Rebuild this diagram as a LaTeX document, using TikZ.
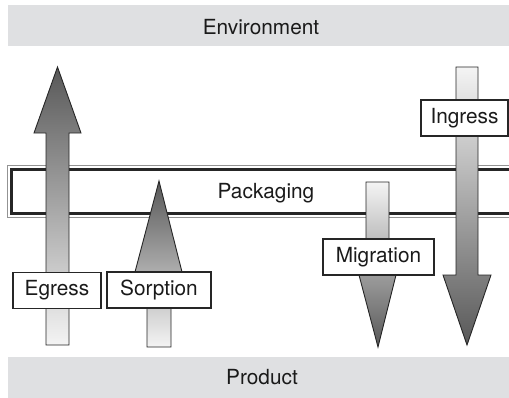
\documentclass[tikz,border=0pt]{standalone}
\usepackage{fontspec}
\setmainfont{TeX Gyre Heros}
\definecolor{bandgray}{HTML}{DFE0E2}
\definecolor{inkgray}{HTML}{1A1A1A}
\definecolor{edgegray}{HTML}{262626}
\definecolor{tailshade}{HTML}{F4F4F4}
\definecolor{tipshade}{HTML}{585858}
\tikzset{
  band/.style={fill=bandgray, draw=none},
  bandtext/.style={text=inkgray, font=\fontsize{20.8}{24}\selectfont},
  flowarrow/.style={draw=edgegray, line width=0.9pt, line join=miter},
  uparrow/.style={flowarrow, top color=tipshade, bottom color=tailshade},
  downarrow/.style={flowarrow, top color=tailshade, bottom color=tipshade},
  labelbox/.style={draw=edgegray, fill=white, line width=1.2pt, inner sep=0pt,
    minimum height=36pt, text=inkgray, font=\fontsize{20.8}{24}\selectfont},
}
\begin{document}
\begin{tikzpicture}[x=1pt,y=-1pt]
\useasboundingbox (0,0) rectangle (509,397);

% environment and product bands
\fill[band] (8,5) rectangle (520,46);
\node[bandtext] (env) at (261,27) {Environment};
\fill[band] (8,357) rectangle (520,405);
\node[bandtext] (prod) at (262,377) {Product};

% packaging layer: thin outer rule and heavy inner rule
\draw[gray!85, line width=1pt] (7,165) rectangle (530,217.5);
\draw[edgegray, line width=3pt] (11.5,169.5) rectangle (530,213);
\node[bandtext] (pack) at (266,193) {Packaging};

% egress: product to environment
\draw[uparrow] (46,345) -- (46,133) -- (34,133) -- (57.5,67) -- (81,133)
  -- (69,133) -- (69,345) -- cycle;
% sorption: product into packaging
\draw[uparrow] (147,347) -- (147,272) -- (135,272) -- (159,181) -- (182,272)
  -- (171,272) -- (171,347) -- cycle;
% migration: packaging into product
\draw[downarrow] (366,182) -- (366,275) -- (359,275) -- (378,347) -- (396,275)
  -- (389,275) -- (389,182) -- cycle;
% ingress: environment to product
\draw[downarrow] (456,67) -- (456,275) -- (443,275) -- (467,345) -- (491,275)
  -- (478,275) -- (478,67) -- cycle;

% labels
\node[labelbox, minimum width=88pt] (egress) at (57,290.5) {Egress};
\node[labelbox, minimum width=104pt] (sorption) at (159,290) {Sorption};
\node[labelbox, minimum width=111pt] (migration) at (378.5,257) {Migration};
\node[labelbox, minimum width=87pt] (ingress) at (464.5,118) {Ingress};
\end{tikzpicture}
\end{document}
